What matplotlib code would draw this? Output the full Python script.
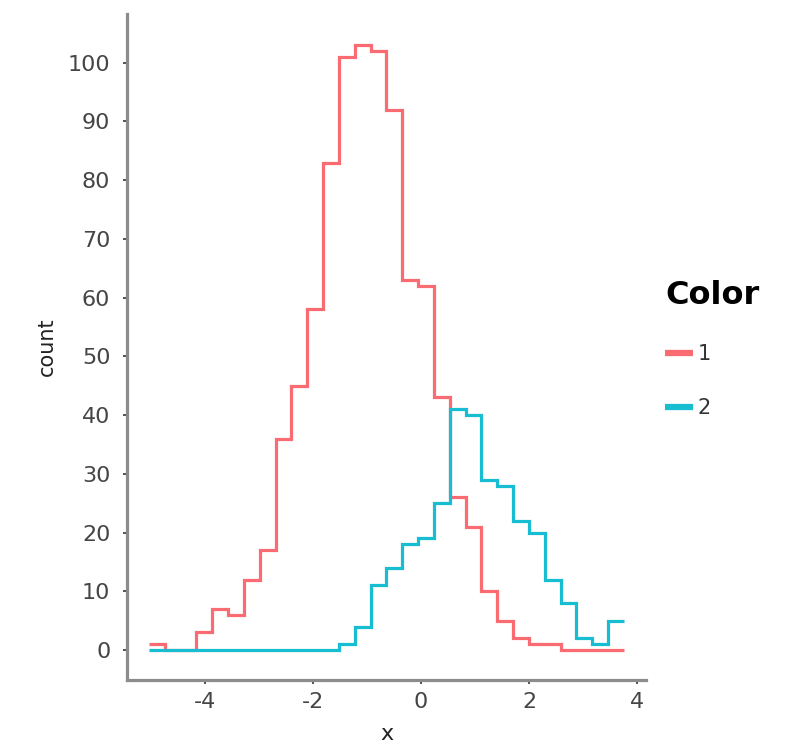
import numpy as np
import matplotlib
matplotlib.use("Agg")
import matplotlib.pyplot as plt
from matplotlib.lines import Line2D

# Binned counts of x for each Color group (30 equal-width bins)
bin_start = -5.037
bin_end = 3.759
counts_1 = [1, 0, 0, 3, 7, 6, 12, 17, 36, 45, 58, 83, 101, 103, 102,
            92, 63, 62, 43, 26, 21, 10, 5, 2, 1, 1, 0, 0, 0, 0]
counts_2 = [0, 0, 0, 0, 0, 0, 0, 0, 0, 0, 0, 0, 1, 4, 11,
            14, 18, 19, 25, 41, 40, 29, 28, 22, 20, 12, 8, 2, 1, 5]
groups = ["1", "2"]
colors = ["#FA6B72", "#17BDD0"]
x_ticks = [-4, -2, 0, 2, 4]
y_ticks = list(range(0, 101, 10))

edges = np.linspace(bin_start, bin_end, len(counts_1) + 1)

W, H = 790, 746
fig = plt.figure(figsize=(W / 100, H / 100), dpi=100)
fig.patch.set_facecolor("white")

left, right, top, bottom = 127, 646, 14, 680
ax = fig.add_axes([left / W, 1 - bottom / H, (right - left) / W, (bottom - top) / H])

for vals, col in zip([counts_1, counts_2], colors):
    ax.stairs(vals, edges, baseline=None, color=col, linewidth=2.3)

ax.set_xlim(-5.444, 4.167)
ax.set_ylim(-5.11, 108.3)
ax.set_xticks(x_ticks)
ax.set_xticklabels([str(t) for t in x_ticks])
ax.set_yticks(y_ticks)

for side in ["top", "right"]:
    ax.spines[side].set_visible(False)
for side in ["left", "bottom"]:
    ax.spines[side].set_color("#8c8c8c")
    ax.spines[side].set_linewidth(2.3)

ax.tick_params(axis="both", direction="out", length=3, width=1.2,
               color="#333333", labelsize=16, labelcolor="#454545")
ax.tick_params(axis="y", pad=9)
ax.tick_params(axis="x", pad=6)

ax.set_xlabel("x", fontsize=16, color="#222222", labelpad=8)
ax.set_ylabel("count", fontsize=15, color="#222222", labelpad=8)

handles = [Line2D([], [], color=c, linewidth=4.5, solid_capstyle="butt") for c in colors]
leg = ax.legend(handles, groups, title="Color", loc="center left",
                bbox_to_anchor=(655 / W, 1 - 349 / H), bbox_transform=fig.transFigure,
                frameon=False, fontsize=15, handlelength=1.3, handletextpad=0.25,
                labelspacing=1.6, borderpad=0, alignment="left",
                title_fontproperties={"weight": "bold", "size": 23})
for t in leg.get_texts():
    t.set_color("#333333")

fig.savefig("out.png", dpi=100, facecolor="white")
